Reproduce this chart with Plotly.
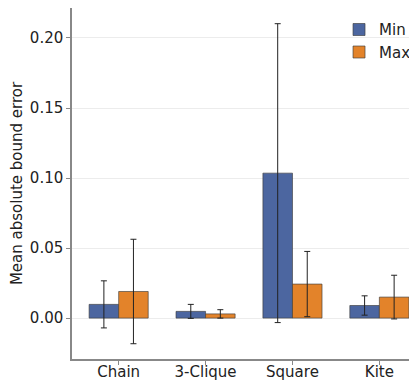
import plotly.graph_objects as go

categories = ["Chain", "3-Clique", "Square", "Kite"]
min_mean = [0.0098, 0.0048, 0.1035, 0.0090]
min_err = [0.0168, 0.0050, 0.1067, 0.0069]
max_mean = [0.0190, 0.0030, 0.0243, 0.0150]
max_err = [0.0373, 0.0030, 0.0233, 0.0156]
ytick_vals = [0.0, 0.05, 0.10, 0.15, 0.20]
ytick_text = ["0.00", "0.05", "0.10", "0.15", "0.20"]

x = list(range(len(categories)))
blue = "#4c66a0"
orange = "#e3832a"
edge = "rgba(60,60,60,0.8)"

fig = go.Figure()
fig.add_trace(go.Bar(
    x=x, y=min_mean, name="Min",
    marker=dict(color=blue, line=dict(color=edge, width=0.8)),
    error_y=dict(type="data", array=min_err, visible=True, color="#222", thickness=1, width=3),
))
fig.add_trace(go.Bar(
    x=x, y=max_mean, name="Max",
    marker=dict(color=orange, line=dict(color=edge, width=0.8)),
    error_y=dict(type="data", array=max_err, visible=True, color="#222", thickness=1, width=3),
))

font = "DejaVu Sans"
fig.update_layout(
    width=409, height=373,
    margin=dict(l=64, r=0, t=0, b=22),
    barmode="group", bargap=0.32, bargroupgap=0,
    plot_bgcolor="white", paper_bgcolor="white",
    font=dict(family=font, size=15, color="#222"),
    legend=dict(x=0.774, y=0.985, xanchor="left", yanchor="top",
                bgcolor="rgba(255,255,255,0)", font=dict(size=15, family=font),
                itemwidth=30),
    showlegend=True,
)
fig.update_xaxes(
    tickmode="array", tickvals=x, ticktext=categories,
    range=[-0.537, 3.433],
    showline=True, linecolor="#888", linewidth=1.5,
    ticks="outside", ticklen=4, tickcolor="#888",
    showgrid=False, zeroline=False, automargin=False,
    ticklabelstandoff=-6,
    tickfont=dict(size=15, family=font),
)
fig.update_yaxes(
    tickmode="array", tickvals=ytick_vals, ticktext=ytick_text,
    range=[-0.0292, 0.2214],
    showline=True, linecolor="#888", linewidth=1.5,
    ticks="outside", ticklen=4, tickcolor="#888",
    showgrid=True, gridcolor="#ececec", gridwidth=1,
    zeroline=False, automargin=False,
    tickfont=dict(size=15, family=font),
    title=dict(text="Mean absolute bound error", font=dict(size=15, family=font), standoff=6),
)

fig.write_html("out.html")
